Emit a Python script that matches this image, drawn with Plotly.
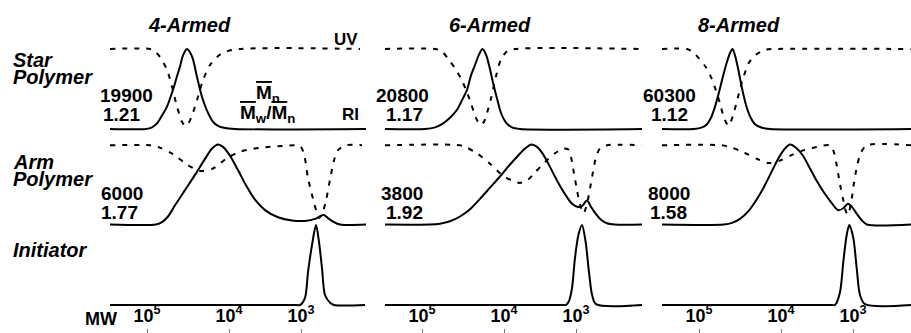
import plotly.graph_objects as go

W, H = 911, 333
FONT = "Liberation Sans, Arial, Helvetica, sans-serif"
NARROW = "Liberation Sans Narrow, Liberation Sans, Arial, sans-serif"

# ---------------- data (elution position within each panel, normalised signal) -------------
# 4-armed
star4_ri_x = [0, 36, 42, 47, 52, 57, 63, 67, 70, 73, 77, 80, 83, 87, 92, 97, 103, 108, 114, 125, 256]
star4_ri_y = [0, 0, 0.02, 0.07, 0.17, 0.28, 0.49, 0.66, 0.78, 0.92, 1.0, 0.96, 0.87, 0.65, 0.40, 0.23, 0.09, 0.04, 0.015, 0, 0]
star4_uv_x = [0, 40, 45, 50, 57, 62, 67, 72, 75, 78, 82, 87, 93, 100, 110, 123, 250]
star4_uv_y = [1, 1, 0.97, 0.9, 0.74, 0.53, 0.28, 0.09, 0.04, 0.06, 0.17, 0.36, 0.61, 0.80, 0.93, 0.99, 1]
arm4_ri_x = [0, 46, 52, 58, 65, 75, 85, 95, 102, 108, 113, 120, 128, 136, 145, 155, 168, 182, 195, 205, 211, 214, 218, 224, 230, 256]
arm4_ri_y = [0, 0, 0.03, 0.1, 0.24, 0.43, 0.62, 0.82, 0.95, 1.0, 0.97, 0.86, 0.68, 0.49, 0.31, 0.18, 0.09, 0.05, 0.045, 0.07, 0.11, 0.12, 0.08, 0.03, 0, 0]
arm4_uv_x = [0, 40, 50, 63, 77, 90, 103, 117, 130, 150, 173, 190, 194, 198, 203, 207, 209, 212, 216, 220, 224, 228, 236, 252]
arm4_uv_y = [0.99, 0.99, 0.96, 0.88, 0.75, 0.67, 0.70, 0.83, 0.91, 0.96, 0.98, 0.98, 0.88, 0.58, 0.32, 0.14, 0.08, 0.13, 0.30, 0.56, 0.80, 0.93, 0.99, 0.99]
init4_x = [0, 186, 190, 195, 198, 202, 206, 209, 212, 215, 220, 224, 255]
init4_y = [0, 0, 0, 0.09, 0.41, 0.75, 1.0, 0.79, 0.46, 0.125, 0.03, 0, 0]

# 6-armed
star6_ri_x = [0, 40, 50, 57, 65, 72, 77, 82, 86, 90, 94, 97.5, 101, 104, 108, 112, 116, 121, 127, 135, 257]
star6_ri_y = [0, 0, 0.02, 0.06, 0.14, 0.24, 0.36, 0.49, 0.67, 0.80, 0.93, 1.0, 0.93, 0.8, 0.58, 0.38, 0.2, 0.08, 0.02, 0, 0]
star6_uv_x = [0, 50, 57, 63, 70, 76, 81, 86, 90, 93, 96, 99, 102, 106, 111, 116, 122, 130, 257]
star6_uv_y = [1, 1, 0.97, 0.88, 0.76, 0.63, 0.49, 0.32, 0.17, 0.09, 0.05, 0.09, 0.2, 0.38, 0.66, 0.87, 0.97, 1.0, 1.0]
arm6_ri_x = [0, 45, 55, 65, 75, 85, 95, 105, 115, 125, 133, 140, 146.5, 152, 158, 165, 172, 180, 187, 193, 197, 202, 206, 211, 216, 222, 230, 257]
arm6_ri_y = [0, 0, 0.01, 0.04, 0.1, 0.19, 0.32, 0.46, 0.6, 0.75, 0.86, 0.95, 1.0, 0.97, 0.88, 0.72, 0.55, 0.38, 0.26, 0.22, 0.23, 0.3, 0.22, 0.13, 0.06, 0.015, 0, 0]
arm6_uv_x = [0, 75, 82, 92, 105, 118, 127, 135, 143, 150, 160, 170, 178, 183, 186, 189, 192, 195, 198.5, 202, 205, 208, 211, 215, 222, 257]
arm6_uv_y = [0.99, 0.99, 0.96, 0.89, 0.76, 0.61, 0.55, 0.52, 0.56, 0.65, 0.78, 0.89, 0.95, 0.94, 0.84, 0.64, 0.43, 0.25, 0.14, 0.26, 0.45, 0.66, 0.84, 0.95, 0.99, 0.99]
init6_x = [0, 178, 181, 184, 187, 190, 193.5, 197, 200.5, 204, 207, 211, 257]
init6_y = [0, 0, 0, 0.05, 0.21, 0.59, 0.88, 1.0, 0.8, 0.41, 0.13, 0.01, 0]

# 8-armed
star8_ri_x = [0, 32, 40, 45, 49, 53, 57, 61, 65, 68, 70.5, 73, 76, 80, 84, 88, 93, 100, 108, 249]
star8_ri_y = [0, 0, 0.02, 0.06, 0.14, 0.28, 0.46, 0.66, 0.84, 0.95, 1.0, 0.92, 0.76, 0.51, 0.3, 0.16, 0.06, 0.015, 0, 0]
star8_uv_x = [0, 25, 30, 35, 44, 50, 54, 58, 62, 66.5, 71, 76, 81, 87, 94, 103, 112, 249]
star8_uv_y = [1, 1, 0.97, 0.91, 0.77, 0.62, 0.48, 0.32, 0.14, 0.04, 0.17, 0.4, 0.63, 0.83, 0.93, 0.99, 1, 1]
arm8_ri_x = [0, 62, 70, 78, 86, 94, 102, 110, 117, 123, 128, 134, 141, 148, 155, 162, 169, 176, 181, 186, 190, 195, 200, 205, 249]
arm8_ri_y = [0, 0, 0.02, 0.07, 0.16, 0.3, 0.47, 0.67, 0.84, 0.95, 1.0, 0.96, 0.86, 0.7, 0.54, 0.4, 0.28, 0.18, 0.2, 0.26, 0.22, 0.13, 0.05, 0, 0]
arm8_uv_x = [0, 60, 70, 82, 95, 106, 118, 130, 142, 155, 168, 172, 175, 178, 181, 184, 186, 189, 192, 195, 199, 205, 249]
arm8_uv_y = [0.99, 0.99, 0.96, 0.9, 0.82, 0.77, 0.8, 0.87, 0.93, 0.97, 0.99, 0.9, 0.72, 0.5, 0.32, 0.16, 0.12, 0.27, 0.52, 0.73, 0.9, 0.99, 0.99]
init8_x = [0, 170, 173, 178, 181.3, 184.7, 187.3, 191.3, 194.7, 198, 203, 249]
init8_y = [0, 0, 0, 0.16, 0.54, 0.875, 1.0, 0.84, 0.46, 0.125, 0.01, 0]

column_titles = ["4-Armed", "6-Armed", "8-Armed"]
star_mn = ["19900", "20800", "60300"]
star_pdi = ["1.21", "1.17", "1.12"]
arm_mn = ["6000", "3800", "8000"]
arm_pdi = ["1.77", "1.92", "1.58"]
mw_tick_pos = [37, 119, 191]
mw_tick_text = ["10<sup>5</sup>", "10<sup>4</sup>", "10<sup>3</sup>"]

# ---------------- layout geometry (pixels) ----------------
col_left = [108, 383, 660]      # domain left edge in px
col_right = [368, 643, 911]
col_range = [[-2, 258], [-2, 258], [-2, 249]]
row_dom_px = [(45, 133), (140.5, 228.5), (221, 333)]   # (top, bottom) px
row_range = [[-0.05, 1.05], [-0.05, 1.05], [-0.35, 1.05]]

panels = [
    [(star4_ri_x, star4_ri_y, star4_uv_x, star4_uv_y),
     (arm4_ri_x, arm4_ri_y, arm4_uv_x, arm4_uv_y),
     (init4_x, init4_y, None, None)],
    [(star6_ri_x, star6_ri_y, star6_uv_x, star6_uv_y),
     (arm6_ri_x, arm6_ri_y, arm6_uv_x, arm6_uv_y),
     (init6_x, init6_y, None, None)],
    [(star8_ri_x, star8_ri_y, star8_uv_x, star8_uv_y),
     (arm8_ri_x, arm8_ri_y, arm8_uv_x, arm8_uv_y),
     (init8_x, init8_y, None, None)],
]

fig = go.Figure()
layout = {}
for c in range(3):
    for r in range(3):
        k = r * 3 + c + 1
        xname = "xaxis" if k == 1 else f"xaxis{k}"
        yname = "yaxis" if k == 1 else f"yaxis{k}"
        xref = "x" if k == 1 else f"x{k}"
        yref = "y" if k == 1 else f"y{k}"
        top, bot = row_dom_px[r]
        xa = dict(domain=[col_left[c] / W, col_right[c] / W], range=col_range[c],
                  showgrid=False, zeroline=False, showline=False, anchor=yref,
                  fixedrange=True)
        if r == 2:
            xa.update(tickvals=mw_tick_pos, ticktext=[f"<b>{t}</b>" for t in mw_tick_text],
                      ticks="inside", ticklen=4, tickwidth=1, tickcolor="#777",
                      ticklabelposition="inside", ticklabelstandoff=4,
                      showticklabels=True,
                      tickfont=dict(family=NARROW, size=18, color="black"))
        else:
            xa.update(showticklabels=False, ticks="")
        ya = dict(domain=[1 - bot / H, 1 - top / H], range=row_range[r], visible=False,
                  anchor=xref, fixedrange=True)
        layout[xname] = xa
        layout[yname] = ya
        rx, ry, ux, uy = panels[c][r]
        fig.add_trace(go.Scatter(x=rx, y=ry, mode="lines", xaxis=xref, yaxis=yref,
                                 line=dict(color="black", width=2, shape="spline", smoothing=0.8),
                                 hoverinfo="skip", showlegend=False))
        if ux is not None:
            fig.add_trace(go.Scatter(x=ux, y=uy, mode="lines", xaxis=xref, yaxis=yref,
                                     line=dict(color="black", width=2, dash="5px,7px",
                                               shape="spline", smoothing=0.8),
                                     hoverinfo="skip", showlegend=False))


def ann(text, x, y, size, xanchor="center", family=FONT):
    return dict(text=text, x=x / W, y=1 - y / H, xref="paper", yref="paper",
                showarrow=False, xanchor=xanchor, yanchor="middle",
                font=dict(family=family, size=size, color="black"))


annotations = []
title_x = [189, 490, 739]
for c in range(3):
    annotations.append(ann(f"<b><i>{column_titles[c]}</i></b>", title_x[c], 25, 20))

star_mn_x = [126, 402, 669]
star_pdi_x = [121, 404, 669]
arm_mn_x = [122, 402, 669]
arm_pdi_x = [119, 404, 668]
for c in range(3):
    annotations.append(ann(f"<b>{star_mn[c]}</b>", star_mn_x[c], 96, 19))
    annotations.append(ann(f"<b>{star_pdi[c]}</b>", star_pdi_x[c], 114, 19))
    annotations.append(ann(f"<b>{arm_mn[c]}</b>", arm_mn_x[c], 193, 19))
    annotations.append(ann(f"<b>{arm_pdi[c]}</b>", arm_pdi_x[c], 212, 19))

# row labels
annotations.append(ann("<b><i>Star</i></b>", 11, 60, 20, xanchor="left"))
annotations.append(ann("<b><i>Polymer</i></b>", 11, 77, 20, xanchor="left"))
annotations.append(ann("<b><i>Arm</i></b>", 11, 162, 20, xanchor="left"))
annotations.append(ann("<b><i>Polymer</i></b>", 11, 179, 20, xanchor="left"))
annotations.append(ann("<b><i>Initiator</i></b>", 11, 250, 20, xanchor="left"))

# detector labels
annotations.append(ann("<b>UV</b>", 346, 39, 17))
annotations.append(ann("<b>RI</b>", 350, 114, 17))
ob = '<span style="text-decoration:overline">M</span>'
annotations.append(ann(f"<b>{ob}<sub>n</sub></b>", 268, 94, 19))
annotations.append(ann(f"<b>{ob}<sub>w</sub>/{ob}<sub>n</sub></b>", 267, 114, 19))

# axis label
annotations.append(ann("<b>MW</b>", 101, 319, 18, family=NARROW))

layout.update(width=W, height=H, margin=dict(l=0, r=0, t=0, b=0),
              paper_bgcolor="white", plot_bgcolor="rgba(0,0,0,0)",
              annotations=annotations, showlegend=False)
fig.update_layout(**layout)
fig.write_html("out.html", config={"displayModeBar": False},
               post_script="document.body.style.margin='0';document.body.style.overflow='hidden';")
